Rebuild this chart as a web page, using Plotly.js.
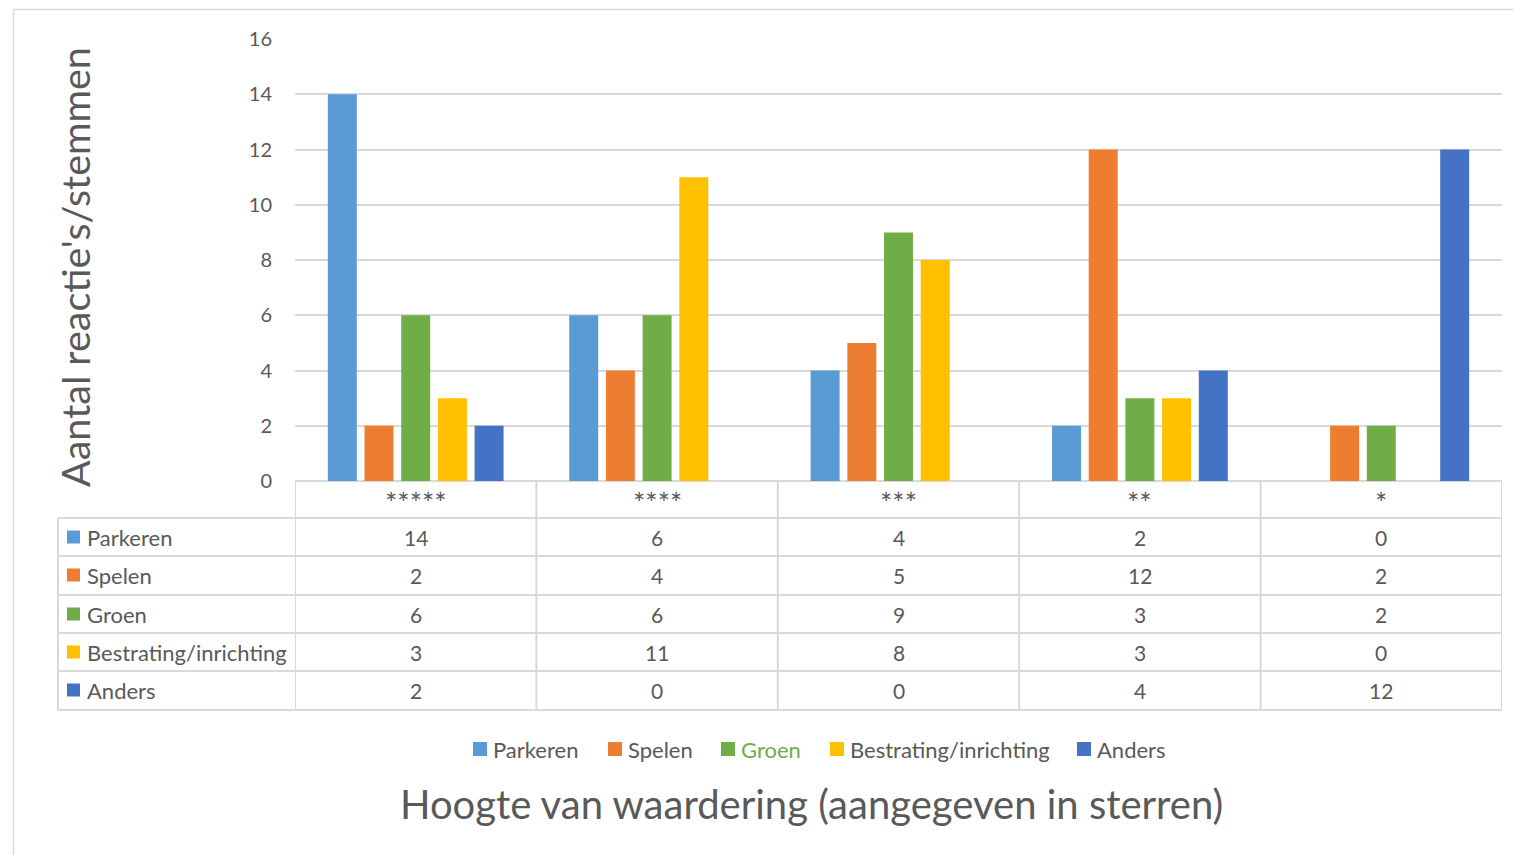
<!DOCTYPE html>
<html>
<head>
<meta charset="utf-8">
<script src="https://cdn.plot.ly/plotly-3.0.1.min.js"></script>
<style>html,body{margin:0;padding:0;background:#fff;}#chart{width:1513px;height:855px;}</style>
</head>
<body>
<div id="chart"></div>
<script>
// ---- data ----
const categories = ['*****', '****', '***', '**', '*'];
const seriesNames = ['Parkeren', 'Spelen', 'Groen', 'Bestrating/inrichting', 'Anders'];
const parkeren = [14, 6, 4, 2, 0];
const spelen = [2, 4, 5, 12, 2];
const groen = [6, 6, 9, 3, 2];
const bestrating = [3, 11, 8, 3, 0];
const anders = [2, 0, 0, 4, 12];
const yTicks = [0, 2, 4, 6, 8, 10, 12, 14, 16];
const yTitle = "Aantal reactie's/stemmen";
const xTitle = 'Hoogte van waardering (aangegeven in sterren)';

const seriesValues = [parkeren, spelen, groen, bestrating, anders];
const colors = ['#5B9BD5', '#ED7D31', '#70AD47', '#FFC000', '#4472C4'];
const FONT = 'Lato, "Noto Sans", sans-serif';
const TXT = '#595959';
const GRID = '#D9D9D9';

// layout geometry (pixels)
const W = 1513, H = 855;
const L = 295, R = 1502, T = 39, B = 481;
const px2x = p => (p - L) / (R - L);
const py2y = p => (B - p) / (B - T);

const traces = seriesNames.map((n, i) => ({
  type: 'bar', name: n, x: categories, y: seriesValues[i],
  marker: {color: colors[i]}, showlegend: false, hoverinfo: 'x+y+name'
}));

const shapes = [];
const annotations = [];

// outer chart border
shapes.push({type: 'rect', xref: 'paper', yref: 'paper',
  x0: px2x(13.5), x1: px2x(1530), y0: py2y(9.5), y1: py2y(900),
  line: {color: GRID, width: 1.5}, fillcolor: 'rgba(0,0,0,0)', layer: 'below'});

// table grid
const rowLines = [518, 556, 595, 633, 671, 710];
const rowCenters = [537, 575, 614, 652, 690];
rowLines.forEach(py => {
  shapes.push({type: 'line', xref: 'paper', yref: 'paper',
    x0: px2x(58), x1: 1, y0: py2y(py), y1: py2y(py), line: {color: GRID, width: 2}});
});
// left edge of label column
shapes.push({type: 'line', xref: 'paper', yref: 'paper',
  x0: px2x(58), x1: px2x(58), y0: py2y(518), y1: py2y(710), line: {color: GRID, width: 2}});
// category column boundaries
for (let k = 0; k <= categories.length; k++) {
  shapes.push({type: 'line', xref: 'x', yref: 'paper',
    x0: k - 0.5, x1: k - 0.5, y0: py2y(481), y1: py2y(710), line: {color: GRID, width: 2}});
}
// header stars
categories.forEach(c => {
  annotations.push({xref: 'x', yref: 'paper', x: c, y: py2y(502), text: c,
    showarrow: false, xanchor: 'center', yanchor: 'middle',
    font: {family: FONT, size: 29, color: TXT}});
});
// rows
seriesNames.forEach((n, i) => {
  const yc = py2y(rowCenters[i]);
  shapes.push({type: 'rect', xref: 'paper', yref: 'paper',
    x0: px2x(67), x1: px2x(80), y0: py2y(rowCenters[i] + 6.5), y1: py2y(rowCenters[i] - 6.5),
    fillcolor: colors[i], line: {width: 0}});
  annotations.push({xref: 'paper', yref: 'paper', x: px2x(85), y: yc, text: n,
    showarrow: false, xanchor: 'left', yanchor: 'middle',
    font: {family: FONT, size: 22, color: TXT}});
  categories.forEach((c, j) => {
    annotations.push({xref: 'x', yref: 'paper', x: c, y: yc, text: String(seriesValues[i][j]),
      showarrow: false, xanchor: 'center', yanchor: 'middle',
      font: {family: FONT, size: 21, color: TXT}});
  });
});

// legend (custom, Excel-like)
const legSq = [473, 608, 721, 830, 1077];
const legCy = 749;
seriesNames.forEach((n, i) => {
  shapes.push({type: 'rect', xref: 'paper', yref: 'paper',
    x0: px2x(legSq[i]), x1: px2x(legSq[i] + 14), y0: py2y(legCy + 7), y1: py2y(legCy - 7),
    fillcolor: colors[i], line: {width: 0}});
  annotations.push({xref: 'paper', yref: 'paper', x: px2x(legSq[i] + 18), y: py2y(legCy), text: n,
    showarrow: false, xanchor: 'left', yanchor: 'middle',
    font: {family: FONT, size: 22, color: i === 2 ? colors[2] : TXT}});
});

// axis titles
annotations.push({xref: 'paper', yref: 'paper', x: px2x(811), y: py2y(804), text: xTitle,
  showarrow: false, xanchor: 'center', yanchor: 'middle',
  font: {family: FONT, size: 40, color: TXT}});
annotations.push({xref: 'paper', yref: 'paper', x: px2x(74), y: py2y(267), text: yTitle,
  showarrow: false, xanchor: 'center', yanchor: 'middle', textangle: -90,
  font: {family: FONT, size: 39.5, color: TXT}});

const layout = {
  width: W, height: H,
  margin: {l: L, r: W - R, t: T, b: H - B, pad: 0},
  paper_bgcolor: '#fff', plot_bgcolor: '#fff',
  barmode: 'group', bargap: 0.24, bargroupgap: 0.21,
  font: {family: FONT, color: TXT},
  xaxis: {type: 'category', showticklabels: false, ticks: '', showgrid: false,
    zeroline: false, showline: false, fixedrange: true, range: [-0.5, 4.5]},
  yaxis: {range: [0, 16], tickvals: yTicks, ticktext: yTicks.map(String),
    showgrid: true, gridcolor: GRID, gridwidth: 1.5, zeroline: true, zerolinecolor: GRID,
    zerolinewidth: 2, showline: false, ticks: '', ticklabelstandoff: 22,
    tickfont: {family: FONT, size: 20, color: TXT}, fixedrange: true},
  shapes: shapes,
  annotations: annotations
};

Plotly.newPlot('chart', traces, layout, {displayModeBar: false, responsive: false});
</script>
</body>
</html>
